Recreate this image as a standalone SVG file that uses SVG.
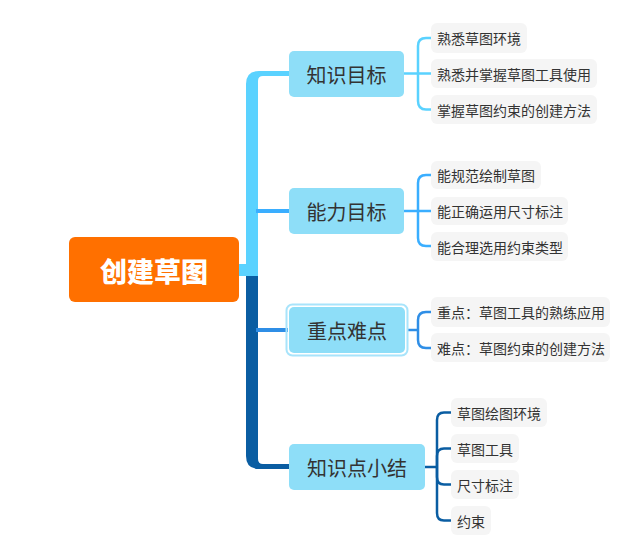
<svg xmlns="http://www.w3.org/2000/svg" width="640" height="545" viewBox="0 0 640 545">
<style>
.t{font-family:"Noto Sans CJK SC","Noto Sans",sans-serif;}
.main{fill:#8EDEF8;}
.mt{font-size:20px;fill:#333333;text-anchor:middle;dominant-baseline:central;}
.sub{fill:#F5F5F5;}
.st{font-size:14px;fill:#333333;dominant-baseline:central;}
.c1{stroke:#5AD2FF;}
.c2{stroke:#3AAEFF;}
.c3{stroke:#2F8EE6;}
.c4{stroke:#0A5DA2;}
.br{fill:none;stroke-width:2.5;}
</style>
<rect width="640" height="545" fill="#ffffff"/>
<g id="connectors">
  <path d="M246,277 V84 Q246,71 259,71 H290 V76 H263 Q258,76 258,81 V277 Z" fill="#5AD2FF"/>
  <rect x="238" y="264" width="20" height="12" fill="#5AD2FF"/>
  <path d="M246,276 V456 Q246,469 259,469 H290 V464 H263 Q258,464 258,459 V276 Z" fill="#0A5DA2"/>
  <rect x="256" y="209" width="34" height="4" fill="#3AAEFF"/>
  <rect x="256" y="328" width="32" height="4" fill="#2F8EE6"/>
  <g class="br c1">
    <path d="M404,73.5 H418"/>
    <path d="M418,73.5 V46 Q418,38 426,38 H432"/>
    <path d="M418,73.5 H432"/>
    <path d="M418,73.5 V101 Q418,109.5 426,109.5 H432"/>
  </g>
  <g class="br c2">
    <path d="M404,211 H418"/>
    <path d="M418,211 V183 Q418,175 426,175 H432"/>
    <path d="M418,211 H432"/>
    <path d="M418,211 V238 Q418,246 426,246 H432"/>
  </g>
  <g class="br c3">
    <path d="M408,330 H418"/>
    <path d="M418,330 V320 Q418,312 426,312 H432"/>
    <path d="M418,330 V340 Q418,348 426,348 H432"/>
  </g>
  <g class="br c4">
    <path d="M425,467 H437"/>
    <path d="M437,467 V420 Q437,412.5 444,412.5 H452"/>
    <path d="M437,467 V456 Q437,448.5 444,448.5 H452"/>
    <path d="M437,467 V477 Q437,484.5 444,484.5 H452"/>
    <path d="M437,467 V513 Q437,520.5 444,520.5 H452"/>
  </g>
</g>
<g id="root">
  <rect x="69" y="237" width="170" height="65" rx="6" fill="#FF7000"/>
  <text class="t" x="154" y="270" font-size="27" font-weight="900" fill="#ffffff" text-anchor="middle" dominant-baseline="central">创建草图</text>
</g>
<g id="n1">
  <rect class="main" x="289" y="51" width="115" height="46" rx="5"/>
  <text class="t mt" x="346.5" y="74">知识目标</text>
</g>
<g id="n2">
  <rect class="main" x="289" y="188" width="115" height="46" rx="5"/>
  <text class="t mt" x="346.5" y="211">能力目标</text>
</g>
<g id="n3">
  <rect x="286.5" y="304.5" width="121" height="51" rx="6" fill="none" stroke="#A8E4FB" stroke-width="2"/>
  <rect class="main" x="289" y="307" width="116" height="46" rx="5"/>
  <text class="t mt" x="347" y="330">重点难点</text>
</g>
<g id="n4">
  <rect class="main" x="289" y="444" width="136" height="46" rx="5"/>
  <text class="t mt" x="357" y="467">知识点小结</text>
</g>
<g id="s1a"><rect class="sub" x="431" y="23" width="96" height="30" rx="6"/><text class="t st" x="437" y="38">熟悉草图环境</text></g>
<g id="s1b"><rect class="sub" x="431" y="59" width="166" height="29" rx="6"/><text class="t st" x="437" y="73.5">熟悉并掌握草图工具使用</text></g>
<g id="s1c"><rect class="sub" x="431" y="95" width="166" height="29" rx="6"/><text class="t st" x="437" y="109.5">掌握草图约束的创建方法</text></g>
<g id="s2a"><rect class="sub" x="431" y="161" width="110" height="28" rx="6"/><text class="t st" x="437" y="175">能规范绘制草图</text></g>
<g id="s2b"><rect class="sub" x="431" y="197" width="137" height="28" rx="6"/><text class="t st" x="437" y="211">能正确运用尺寸标注</text></g>
<g id="s2c"><rect class="sub" x="431" y="232" width="137" height="29" rx="6"/><text class="t st" x="437" y="246.5">能合理选用约束类型</text></g>
<g id="s3a"><rect class="sub" x="431" y="297" width="179" height="30" rx="6"/><text class="t st" x="437" y="312">重点：草图工具的熟练应用</text></g>
<g id="s3b"><rect class="sub" x="431" y="333" width="179" height="29" rx="6"/><text class="t st" x="437" y="347.5">难点：草图约束的创建方法</text></g>
<g id="s4a"><rect class="sub" x="451" y="398" width="96" height="29" rx="6"/><text class="t st" x="457" y="412.5">草图绘图环境</text></g>
<g id="s4b"><rect class="sub" x="451" y="434" width="68" height="29" rx="6"/><text class="t st" x="457" y="448.5">草图工具</text></g>
<g id="s4c"><rect class="sub" x="451" y="470" width="68" height="29" rx="6"/><text class="t st" x="457" y="484.5">尺寸标注</text></g>
<g id="s4d"><rect class="sub" x="451" y="506" width="40" height="29" rx="6"/><text class="t st" x="457" y="520.5">约束</text></g>
</svg>
